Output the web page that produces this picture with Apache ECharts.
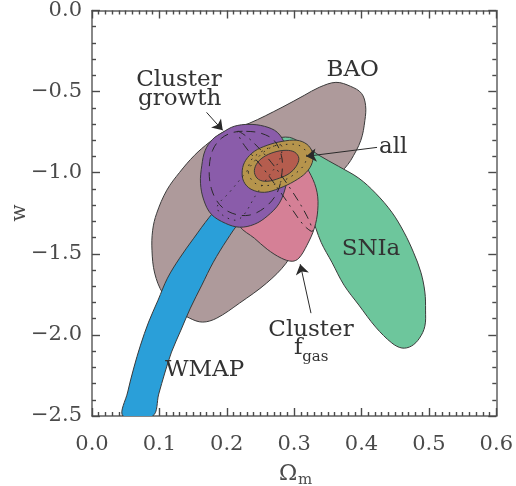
<!DOCTYPE html>
<html>
<head>
<meta charset="utf-8">
<script src="https://cdn.jsdelivr.net/npm/echarts@6/dist/echarts.min.js"></script>
<style>
  html, body { margin: 0; padding: 0; background: #fff; }
  #chart { width: 516px; height: 486px; }
</style>
</head>
<body>
<div id="chart"></div>
<script>
// Confidence regions in the (Omega_m, w) plane, each as [Omega_m, w] vertices.
const baoRegion = [
  [0.362, -0.443], [0.384, -0.468], [0.400, -0.511], [0.406, -0.585], [0.405, -0.677],
  [0.399, -0.800], [0.384, -0.924], [0.375, -0.973], [0.337, -1.170], [0.307, -1.416],
  [0.288, -1.558], [0.259, -1.681], [0.219, -1.804], [0.185, -1.897], [0.164, -1.921],
  [0.145, -1.897], [0.127, -1.847], [0.105, -1.743], [0.093, -1.619], [0.089, -1.478],
  [0.090, -1.355], [0.096, -1.250], [0.111, -1.108], [0.130, -0.998], [0.152, -0.893],
  [0.174, -0.813], [0.197, -0.745], [0.233, -0.696], [0.282, -0.597], [0.315, -0.523],
  [0.337, -0.474]
];

const snIaRegion = [
  [0.270, -0.800], [0.293, -0.782], [0.315, -0.831], [0.337, -0.893], [0.366, -0.961],
  [0.396, -1.034], [0.421, -1.127], [0.445, -1.244], [0.463, -1.367], [0.477, -1.490],
  [0.488, -1.613], [0.494, -1.736], [0.495, -1.847], [0.494, -1.946], [0.486, -2.020],
  [0.474, -2.069], [0.460, -2.081], [0.445, -2.050], [0.421, -1.952], [0.396, -1.816],
  [0.374, -1.693], [0.356, -1.552], [0.340, -1.429], [0.325, -1.262], [0.307, -1.108],
  [0.285, -0.954], [0.270, -0.862]
];

const wmapRegion = [
  [0.046, -2.500], [0.053, -2.352], [0.062, -2.204], [0.072, -2.063], [0.084, -1.921],
  [0.098, -1.786], [0.112, -1.650], [0.130, -1.527], [0.151, -1.404], [0.174, -1.275],
  [0.201, -1.145], [0.233, -0.998], [0.263, -0.881], [0.292, -0.812], [0.305, -0.806],
  [0.316, -0.828], [0.318, -0.880], [0.307, -0.954], [0.282, -1.047], [0.251, -1.170],
  [0.219, -1.305], [0.200, -1.416], [0.180, -1.552], [0.163, -1.693], [0.146, -1.835],
  [0.132, -1.970], [0.118, -2.106], [0.108, -2.235], [0.099, -2.365], [0.090, -2.500]
];

const fgasRegion = [
  [0.219, -1.330], [0.241, -1.404], [0.260, -1.472], [0.281, -1.527], [0.297, -1.546],
  [0.307, -1.527], [0.319, -1.447], [0.330, -1.342], [0.335, -1.232], [0.334, -1.121],
  [0.325, -1.016], [0.310, -0.924], [0.290, -0.862], [0.263, -0.850], [0.241, -0.893],
  [0.226, -0.985], [0.216, -1.108], [0.213, -1.232]
];

const growthRegion = [
  [0.194, -0.751], [0.211, -0.714], [0.233, -0.702], [0.256, -0.714], [0.275, -0.751],
  [0.287, -0.831], [0.293, -0.954], [0.288, -1.078], [0.278, -1.188], [0.260, -1.268],
  [0.241, -1.318], [0.219, -1.336], [0.198, -1.312], [0.177, -1.256], [0.166, -1.170],
  [0.161, -1.065], [0.163, -0.954], [0.168, -0.862], [0.179, -0.794]
];

const allOuterRegion = [
  [0.223, -0.985], [0.228, -0.924], [0.241, -0.868], [0.260, -0.831], [0.282, -0.807],
  [0.304, -0.800], [0.319, -0.825], [0.327, -0.874], [0.327, -0.936], [0.318, -0.998],
  [0.300, -1.053], [0.278, -1.096], [0.256, -1.121], [0.236, -1.102], [0.225, -1.053]
];

const allInnerRegion = [
  [0.241, -0.998], [0.244, -0.948], [0.254, -0.905], [0.270, -0.874], [0.288, -0.862],
  [0.301, -0.874], [0.307, -0.911], [0.303, -0.961], [0.293, -1.004], [0.278, -1.034],
  [0.260, -1.053], [0.247, -1.041]
];

// Inner (68%) contours drawn as broken outlines.
const growthInner = [
  [0.229, -0.745], [0.251, -0.757], [0.270, -0.800], [0.281, -0.893], [0.282, -0.998],
  [0.275, -1.121], [0.257, -1.213], [0.233, -1.262], [0.208, -1.250], [0.189, -1.195],
  [0.177, -1.096], [0.174, -0.973], [0.179, -0.862], [0.192, -0.788], [0.210, -0.751]
];
const fgasInner = [
  [0.216, -0.745], [0.236, -0.800], [0.266, -0.936], [0.296, -1.108], [0.319, -1.268],
  [0.327, -1.361], [0.313, -1.318], [0.285, -1.151], [0.254, -0.973], [0.226, -0.831]
];
const wmapInner = [
  [0.186, -1.207], [0.204, -1.121], [0.226, -1.010], [0.245, -0.911], [0.263, -0.850],
  [0.281, -0.831], [0.278, -0.924], [0.260, -1.034], [0.242, -1.145], [0.226, -1.256],
  [0.213, -1.293], [0.192, -1.256]
];
const allMiddle = [
  [0.232, -0.998], [0.236, -0.924], [0.250, -0.874], [0.269, -0.837], [0.290, -0.825],
  [0.307, -0.831], [0.318, -0.874], [0.316, -0.942], [0.304, -0.998], [0.285, -1.047],
  [0.263, -1.078], [0.242, -1.065]
];

// Annotation arrows: [tail, head].
const arrowGrowth = [[0.170, -0.628], [0.194, -0.739]];
const arrowAll = [[0.423, -0.844], [0.318, -0.899]];
const arrowFgas = [[0.325, -1.866], [0.309, -1.564]];

// Region labels.
const labelText  = ['Cluster', 'growth', 'BAO', 'all', 'SNIa', 'WMAP', 'Cluster', 'f', 'gas'];
const labelOmega = [0.129, 0.130, 0.387, 0.426, 0.414, 0.167, 0.325, 0.306, 0.312];
const labelW     = [-0.431, -0.544, -0.366, -0.840, -1.468, -2.219, -1.967, -2.084, -2.140];
const labelAlign = ['center', 'center', 'center', 'left', 'center', 'center', 'center', 'center', 'left'];
const labelSize  = [23, 23, 23, 23, 23, 23, 23, 23, 15];

// Axis ranges.
const xTicks = [0, 0.1, 0.2, 0.3, 0.4, 0.5, 0.6];
const yTicks = [0, -0.5, -1.0, -1.5, -2.0, -2.5];

const FONT = '"DejaVu Serif", "Liberation Serif", serif';
const EDGE = '#3a3a3a';
const AXIS = '#606060';
const TICK = '#4a4a4a';

const X_MIN = Math.min.apply(null, xTicks), X_MAX = Math.max.apply(null, xTicks);
const Y_MIN = Math.min.apply(null, yTicks), Y_MAX = Math.max.apply(null, yTicks);

function region(name, pts, fill, z, clip) {
  return {
    type: 'custom', name: name, data: pts, z: z, silent: true, clip: !!clip,
    renderItem: function (params, api) {
      if (params.dataIndex !== 0) return null;
      return {
        type: 'polygon',
        shape: { points: pts.map(function (p) { return api.coord(p); }), smooth: 0.35 },
        style: { fill: fill, stroke: EDGE, lineWidth: 1 }
      };
    }
  };
}

function contour(name, pts, dash, z) {
  return {
    type: 'custom', name: name, data: pts, z: z, silent: true,
    renderItem: function (params, api) {
      if (params.dataIndex !== 0) return null;
      return {
        type: 'polygon',
        shape: { points: pts.map(function (p) { return api.coord(p); }), smooth: 0.35 },
        style: { fill: 'none', stroke: '#2a2a2a', lineWidth: 1, lineDash: dash }
      };
    }
  };
}

function fmt(v) {
  return v.toFixed(1).replace('-', '\u2212');
}

function axis(kind, position, showLabel) {
  const isX = kind === 'x';
  return {
    type: 'value',
    position: position,
    min: isX ? X_MIN : Y_MIN,
    max: isX ? X_MAX : Y_MAX,
    interval: isX ? 0.1 : 0.5,
    axisLine: { show: true, onZero: false, lineStyle: { color: AXIS, width: 1.5 } },
    axisTick: { show: true, inside: true, length: 8, lineStyle: { color: TICK, width: 1.4 } },
    minorTick: { show: true, splitNumber: isX ? 10 : 5, length: 4, lineStyle: { color: TICK, width: 1.4 } },
    splitLine: { show: false },
    minorSplitLine: { show: false },
    axisLabel: showLabel
      ? { show: true, margin: isX ? 18 : 10, fontSize: 21, fontFamily: FONT, color: '#4a4a4a', formatter: fmt }
      : { show: false }
  };
}

const chart = echarts.init(document.getElementById('chart'));

chart.setOption({
  animation: false,
  grid: { left: 92, top: 10, right: 18, bottom: 70 },
  xAxis: [axis('x', 'bottom', true), axis('x', 'top', false)],
  yAxis: [axis('y', 'left', true), axis('y', 'right', false)],
  graphic: [
    { type: 'text', x: 288, y: 474, style: { text: '\u03A9', font: '22px ' + FONT, fill: '#4a4a4a', align: 'center', verticalAlign: 'middle' } },
    { type: 'text', x: 298, y: 480, style: { text: 'm', font: '15px ' + FONT, fill: '#4a4a4a', align: 'left', verticalAlign: 'middle' } },
    { type: 'text', x: 20, y: 213, rotation: Math.PI / 2, style: { text: 'w', font: '20px ' + FONT, fill: '#4a4a4a', align: 'center', verticalAlign: 'middle' } }
  ],
  series: [
    region('BAO', baoRegion, '#ae9a9b', 1),
    region('SNIa', snIaRegion, '#6dc69c', 2),
    region('WMAP', wmapRegion, '#2a9fd9', 3, true),
    region('Cluster fgas', fgasRegion, '#d58096', 4),
    region('Cluster growth', growthRegion, '#8a5caa', 5),
    region('all 95%', allOuterRegion, '#b6944c', 6),
    region('all 68%', allInnerRegion, '#b55d4e', 7),
    contour('growth 68%', growthInner, [9, 6], 8),
    contour('fgas 68%', fgasInner, [9, 5, 2, 5], 8),
    contour('WMAP 68%', wmapInner, [1.5, 5], 8),
    contour('all mid', allMiddle, [1.5, 5], 8),
    {
      type: 'lines', coordinateSystem: 'cartesian2d', z: 9, silent: true,
      symbol: ['none', 'arrow'], symbolSize: 10,
      lineStyle: { color: '#2a2a2a', width: 1, opacity: 1, curveness: 0 },
      data: [
        { coords: arrowGrowth },
        { coords: arrowAll },
        { coords: arrowFgas }
      ]
    },
    {
      type: 'custom', name: 'labels', z: 10, silent: true,
      data: labelText.map(function (t, i) { return [labelOmega[i], labelW[i]]; }),
      renderItem: function (params, api) {
        const i = params.dataIndex;
        const p = api.coord([api.value(0), api.value(1)]);
        return {
          type: 'text', x: p[0], y: p[1],
          style: {
            text: labelText[i], fill: '#333333',
            font: labelSize[i] + 'px ' + FONT,
            align: labelAlign[i], verticalAlign: 'middle'
          }
        };
      }
    }
  ]
});
</script>
</body>
</html>
